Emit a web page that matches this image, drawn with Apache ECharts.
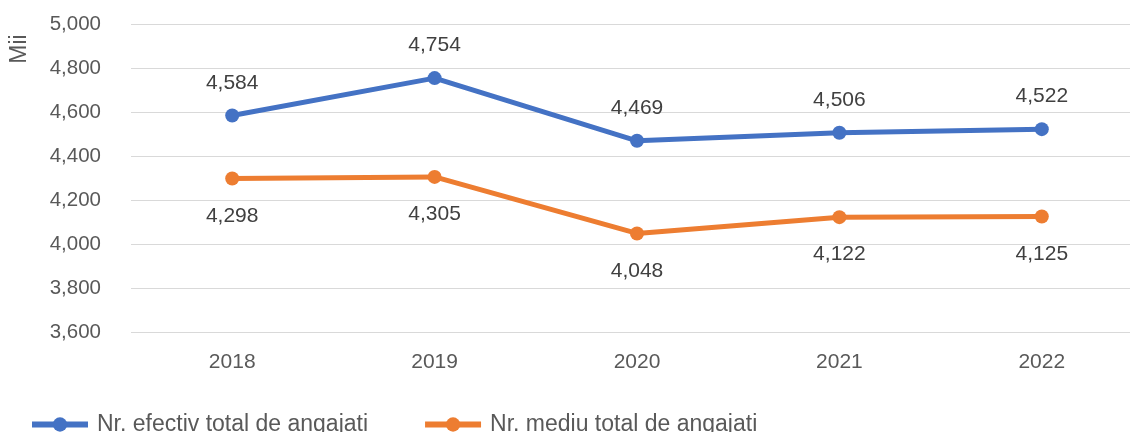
<!DOCTYPE html>
<html>
<head>
<meta charset="utf-8">
<script src="https://cdn.jsdelivr.net/npm/echarts@6/dist/echarts.min.js"></script>
<style>
  html, body { margin: 0; padding: 0; background: #fff; overflow: hidden; }
  #chart { width: 1145px; height: 432px; }
</style>
</head>
<body>
<div id="chart"></div>
<script>
const years = ['2018', '2019', '2020', '2021', '2022']
const efectiv = [4584, 4754, 4469, 4506, 4522]
const mediu = [4298, 4305, 4048, 4122, 4125]
const seriesNames = ['Nr. efectiv total de angajați', 'Nr. mediu total de angajați']

const font = '"Liberation Sans", Arial, sans-serif'
const fmt = (v) => Number(v).toLocaleString('en-US')

// chart is a bit wider than the window so the grid runs off the right edge like the original
const chart = echarts.init(document.getElementById('chart'))

function lineSeries(name, data, color, pos, dist) {
  return {
    name,
    type: 'line',
    data,
    symbol: 'circle',
    symbolSize: 14,
    lineStyle: { width: 5, color },
    itemStyle: { color },
    label: {
      show: true,
      position: pos,
      distance: dist,
      color: '#404040',
      fontFamily: font,
      fontSize: 21,
      formatter: (p) => fmt(p.value)
    },
    emphasis: { disabled: true }
  }
}

chart.setOption({
  animation: false,
  backgroundColor: '#fff',
  textStyle: { fontFamily: font },
  grid: { left: 131, right: 2, top: 24, bottom: 100, containLabel: false },
  legend: {
    left: 29,
    top: 413,
    padding: 0,
    itemWidth: 56,
    itemHeight: 18,
    itemGap: 54,
    lineStyle: { width: 6 },
    textStyle: { color: '#595959', fontSize: 23, fontFamily: font, padding: [0, 0, 0, 4] },
    data: seriesNames
  },
  graphic: [{
    type: 'text',
    x: 20,
    y: 49,
    rotation: Math.PI / 2,
    style: {
      text: 'Mii',
      fill: '#595959',
      font: '23px "Liberation Sans", Arial, sans-serif',
      align: 'center',
      verticalAlign: 'middle'
    }
  }],
  xAxis: {
    type: 'category',
    data: years,
    boundaryGap: true,
    axisLine: { show: false },
    axisTick: { show: false },
    axisLabel: { color: '#595959', fontSize: 21, margin: 20 }
  },
  yAxis: {
    type: 'value',
    min: 3600,
    max: 5000,
    interval: 200,
    axisLine: { show: false },
    axisTick: { show: false },
    axisLabel: { color: '#595959', fontSize: 20.5, margin: 30, formatter: fmt },
    splitLine: { lineStyle: { color: '#d9d9d9', width: 1 } }
  },
  series: [
    lineSeries(seriesNames[0], efectiv, '#4472C4', 'top', 15),
    lineSeries(seriesNames[1], mediu, '#ED7D31', 'bottom', 20)
  ]
})
</script>
</body>
</html>
